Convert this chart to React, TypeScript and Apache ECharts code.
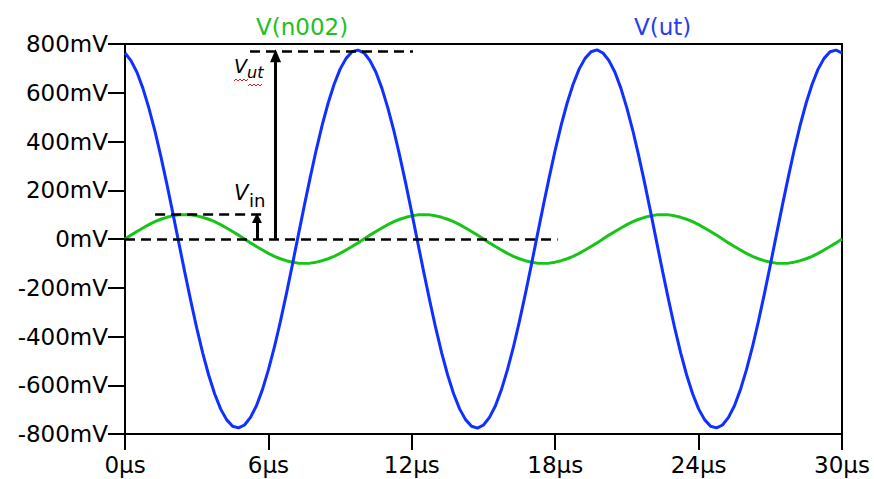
import React, { useEffect, useRef } from "react";
import * as echarts from "echarts";

// time axis in µs
const timeUs: number[] = [
  0, 0.25, 0.5, 0.75, 1, 1.25, 1.5, 1.75, 2, 2.25, 2.5, 2.75, 3, 3.25, 3.5, 3.75, 4, 4.25, 4.5, 4.75,
  5, 5.25, 5.5, 5.75, 6, 6.25, 6.5, 6.75, 7, 7.25, 7.5, 7.75, 8, 8.25, 8.5, 8.75, 9, 9.25, 9.5, 9.75,
  10, 10.25, 10.5, 10.75, 11, 11.25, 11.5, 11.75, 12, 12.25, 12.5, 12.75, 13, 13.25, 13.5, 13.75, 14, 14.25, 14.5, 14.75,
  15, 15.25, 15.5, 15.75, 16, 16.25, 16.5, 16.75, 17, 17.25, 17.5, 17.75, 18, 18.25, 18.5, 18.75, 19, 19.25, 19.5, 19.75,
  20, 20.25, 20.5, 20.75, 21, 21.25, 21.5, 21.75, 22, 22.25, 22.5, 22.75, 23, 23.25, 23.5, 23.75, 24, 24.25, 24.5, 24.75,
  25, 25.25, 25.5, 25.75, 26, 26.25, 26.5, 26.75, 27, 27.25, 27.5, 27.75, 28, 28.25, 28.5, 28.75, 29, 29.25, 29.5, 29.75,
  30,
];

// V(ut) in mV
const vUt: number[] = [
  763, 732, 684, 618, 537, 444, 339, 226, 107, -15, -136, -253, -365, -467, -558, -635, -697, -741, -768, -775,
  -763, -732, -684, -618, -537, -444, -339, -226, -107, 15, 136, 253, 365, 467, 558, 635, 697, 741, 768, 775,
  764, 732, 684, 618, 537, 444, 339, 226, 107, -15, -136, -253, -365, -467, -558, -635, -697, -741, -768, -776,
  -763, -732, -684, -618, -537, -444, -339, -226, -107, 15, 136, 253, 365, 467, 558, 635, 697, 741, 768, 776,
  763, 732, 684, 618, 537, 444, 339, 226, 107, -15, -136, -253, -365, -467, -558, -635, -697, -741, -768, -775,
  -763, -732, -684, -618, -537, -444, -339, -226, -107, 15, 136, 253, 365, 467, 558, 635, 697, 741, 768, 775,
  763,
];

// V(n002) in mV
const vN002: number[] = [
  0, 16, 31, 45, 59, 71, 81, 89, 95, 99, 100, 99, 95, 89, 81, 71, 59, 45, 31, 16,
  0, -16, -31, -45, -59, -71, -81, -89, -95, -99, -100, -99, -95, -89, -81, -71, -59, -45, -31, -16,
  0, 16, 31, 45, 59, 71, 81, 89, 95, 99, 100, 99, 95, 89, 81, 71, 59, 45, 31, 16,
  0, -16, -31, -45, -59, -71, -81, -89, -95, -99, -100, -99, -95, -89, -81, -71, -59, -45, -31, -16,
  0, 16, 31, 45, 59, 71, 81, 89, 95, 99, 100, 99, 95, 89, 81, 71, 59, 45, 31, 16,
  0, -16, -31, -45, -59, -71, -81, -89, -95, -99, -100, -99, -95, -89, -81, -71, -59, -45, -31, -16,
  0,
];

const xTicks = [0, 6, 12, 18, 24, 30];
const yTicks = [-800, -600, -400, -200, 0, 200, 400, 600, 800];

// annotation levels (µs, mV)
const zeroLine = { x0: 0, x1: 18.1, y: 0 };
const utLine = { x0: 5.23, x1: 12.05, y: 772 };
const inLine = { x0: 1.26, x1: 5.73, y: 102 };
const utArrow = { x: 6.3, y0: 0, y1: 752 };
const inArrow = { x: 5.52, y0: 0, y1: 86 };

const FONT = "DejaVu Sans";

export default function App() {
  const ref = useRef<HTMLDivElement>(null);

  useEffect(() => {
    if (!ref.current) return;
    const chart = echarts.init(ref.current, undefined, { renderer: "svg" });

    const dash = { color: "#000", width: 2.5, type: [10, 6] as any };
    const arrowStyle = { color: "#000", width: 3, type: "solid" as any };

    chart.setOption({
      animation: false,
      backgroundColor: "#fff",
      grid: {
        left: 125,
        right: 32,
        top: 44,
        bottom: 45,
        show: true,
        borderColor: "#000",
        borderWidth: 2,
        backgroundColor: "transparent",
      },
      xAxis: {
        type: "value",
        min: xTicks[0],
        max: xTicks[xTicks.length - 1],
        interval: 6,
        axisLine: { show: true, onZero: false, lineStyle: { color: "#000", width: 2 } },
        axisTick: { show: true, length: 16, lineStyle: { color: "#000", width: 2 } },
        axisLabel: {
          margin: 19,
          color: "#000",
          fontFamily: FONT,
          fontSize: 23,
          formatter: (v: number) => `${v}µs`,
        },
        splitLine: { show: false },
      },
      yAxis: {
        type: "value",
        min: yTicks[0],
        max: yTicks[yTicks.length - 1],
        interval: 200,
        axisLine: { show: true, onZero: false, lineStyle: { color: "#000", width: 2 } },
        axisTick: { show: true, length: 17, lineStyle: { color: "#000", width: 2 } },
        axisLabel: {
          margin: 17,
          color: "#000",
          fontFamily: FONT,
          fontSize: 23,
          formatter: (v: number) => `${v}mV`,
        },
        splitLine: { show: false },
      },
      series: [
        {
          name: "V(n002)",
          type: "line",
          data: timeUs.map((t, i) => [t, vN002[i]]),
          smooth: false,
          showSymbol: false,
          lineStyle: { color: "#18c418", width: 3 },
          z: 2,
        },
        {
          name: "V(ut)",
          type: "line",
          data: timeUs.map((t, i) => [t, vUt[i]]),
          smooth: false,
          showSymbol: false,
          lineStyle: { color: "#0f30ff", width: 3 },
          z: 3,
          markLine: {
            silent: true,
            animation: false,
            symbol: ["none", "none"],
            label: { show: false },
            emphasis: { disabled: true },
            data: [
              [
                { coord: [zeroLine.x0, zeroLine.y], lineStyle: dash },
                { coord: [zeroLine.x1, zeroLine.y] },
              ],
              [
                { coord: [utLine.x0, utLine.y], lineStyle: dash },
                { coord: [utLine.x1, utLine.y] },
              ],
              [
                { coord: [inLine.x0, inLine.y], lineStyle: dash },
                { coord: [inLine.x1, inLine.y] },
              ],
              [
                { coord: [utArrow.x, utArrow.y0], lineStyle: arrowStyle, symbol: "none" },
                { coord: [utArrow.x, utArrow.y1], symbol: "triangle", symbolSize: [11, 13] },
              ],
              [
                { coord: [inArrow.x, inArrow.y0], lineStyle: arrowStyle, symbol: "none" },
                { coord: [inArrow.x, inArrow.y1], symbol: "triangle", symbolSize: [10, 10] },
              ],
            ],
          },
        },
      ],
      graphic: [
        {
          type: "text",
          left: 302 - 46,
          top: 15,
          style: { text: "V(n002)", fill: "#22c022", font: `23px "${FONT}"` },
        },
        {
          type: "text",
          left: 662 - 28,
          top: 15,
          style: { text: "V(ut)", fill: "#2a3cf0", font: `23px "${FONT}"` },
        },
        {
          type: "text",
          x: 234,
          y: 66,
          style: {
            text: "V",
            fill: "#000",
            font: `italic 19px "${FONT}"`,
            verticalAlign: "middle",
          },
        },
        {
          type: "text",
          x: 247,
          y: 72,
          style: {
            text: "ut",
            fill: "#000",
            font: `italic 16px "${FONT}"`,
            verticalAlign: "middle",
          },
        },
        {
          type: "polyline",
          shape: {
            points: [
              [234, 81], [236, 79], [238, 81], [240, 79], [242, 81], [244, 79], [246, 81], [248, 79],
            ],
          },
          style: { stroke: "#e02020", lineWidth: 1, fill: "none" },
        },
        {
          type: "polyline",
          shape: {
            points: [
              [248, 86], [250, 84], [252, 86], [254, 84], [256, 86], [258, 84], [260, 86], [262, 84],
            ],
          },
          style: { stroke: "#e02020", lineWidth: 1, fill: "none" },
        },
        {
          type: "text",
          x: 234,
          y: 193,
          style: {
            text: "V",
            fill: "#000",
            font: `italic 21px "${FONT}"`,
            verticalAlign: "middle",
          },
        },
        {
          type: "text",
          x: 249,
          y: 200,
          style: {
            text: "in",
            fill: "#000",
            font: `18px "${FONT}"`,
            verticalAlign: "middle",
          },
        },
      ],
    });

    return () => chart.dispose();
  }, []);

  return <div ref={ref} style={{ width: 874, height: 479, position: "absolute", left: 0, top: 0 }} />;
}
